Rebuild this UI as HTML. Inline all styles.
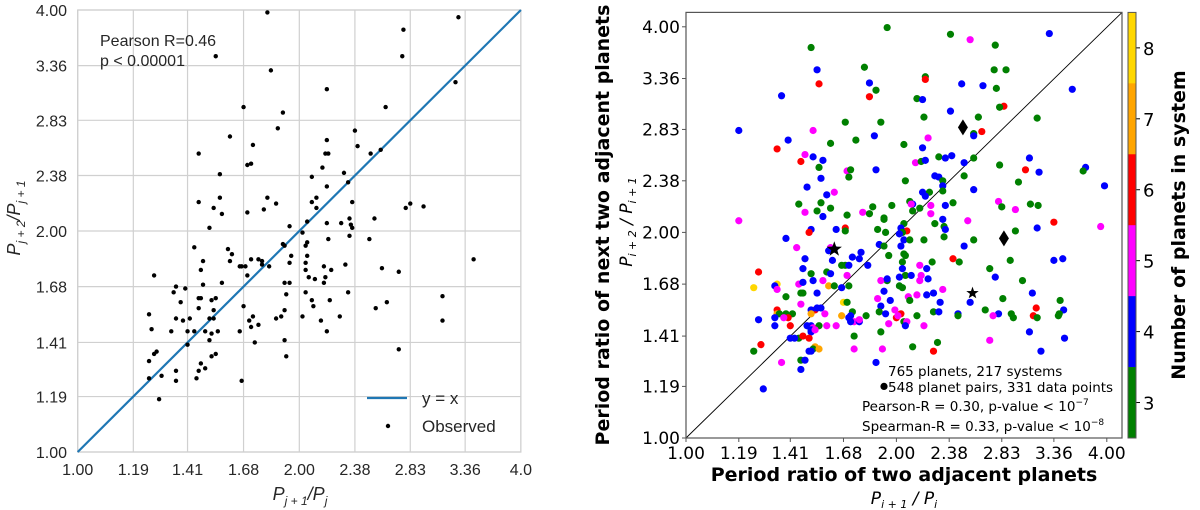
<!DOCTYPE html>
<html><head><meta charset="utf-8"><style>
html,body{margin:0;padding:0;background:#fff;}
svg{display:block;}
</style></head><body>
<svg id="chart" width="1200" height="510" viewBox="0 0 1200 510" xmlns="http://www.w3.org/2000/svg" font-family="Liberation Sans, DejaVu Sans, sans-serif">
<g id="left"></g>
<g id="right"></g>
</svg>
<script>
const ticks = [1.00, 1.19, 1.41, 1.68, 2.00, 2.38, 2.83, 3.36, 4.00];
const tickLabels = ["1.00","1.19","1.41","1.68","2.00","2.38","2.83","3.36","4.00"];
const leftTickLabelsX = ["1.00","1.19","1.41","1.68","2.00","2.38","2.83","3.36","4.0"];
const leftX = [1.81,3.29,2.77,2.76,1.54,1.83,3.26,2.18,1.68,2.62,1.90,1.87,2.38,1.61,2.18,1.73,2.40,2.58,1.46,2.50,2.17,2.19,1.70,1.72,2.15,2.30,1.56,2.08,2.33,2.18,1.56,1.81,2.11,1.46,2.08,2.36,1.86,2.83,2.79,2.95,1.53,1.79,2.11,1.57,1.70,2.53,2.05,2.28,2.34,2.18,2.35,2.36,1.51,1.94,2.02,2.34,2.49,2.19,2.05,1.90,1.91,1.44,1.60,2.04,1.62,1.95,2.05,3.45,1.72,1.76,1.78,1.48,1.61,1.78,1.94,2.04,2.31,1.82,1.66,1.67,1.69,2.16,2.59,1.47,2.21,2.04,2.73,1.70,2.06,2.10,2.17,1.27,1.48,1.57,1.36,1.91,1.94,2.16,1.40,1.35,2.04,2.33,1.92,3.13,1.46,1.47,1.54,1.52,2.08,2.20,1.38,2.63,2.09,1.68,2.54,1.46,1.53,1.91,1.25,1.73,2.02,2.27,1.89,1.51,1.53,1.36,1.86,1.39,1.42,1.71,2.14,3.13,1.76,1.26,1.72,1.34,1.41,1.44,1.49,1.52,1.55,1.66,2.18,1.51,1.41,1.74,1.91,2.73,1.28,1.27,1.25,1.54,1.52,1.92,1.47,1.49,1.46,1.36,1.30,1.25,1.45,1.36,1.67,1.29];
const leftY = [3.97,3.91,3.76,3.46,3.46,3.31,3.19,3.12,2.95,2.95,2.90,2.76,2.74,2.69,2.66,2.62,2.61,2.58,2.55,2.55,2.55,2.55,2.46,2.47,2.44,2.40,2.39,2.37,2.33,2.30,2.22,2.22,2.22,2.19,2.19,2.19,2.18,2.18,2.15,2.16,2.15,2.14,2.15,2.11,2.12,2.08,2.06,2.05,2.08,2.05,2.04,2.02,2.02,2.03,1.99,1.97,1.95,1.95,1.93,1.92,1.91,1.90,1.89,1.91,1.86,1.85,1.85,1.83,1.83,1.83,1.82,1.82,1.82,1.80,1.81,1.81,1.80,1.79,1.79,1.79,1.79,1.79,1.78,1.77,1.77,1.77,1.76,1.74,1.73,1.72,1.73,1.74,1.69,1.70,1.68,1.70,1.70,1.70,1.67,1.65,1.65,1.65,1.64,1.63,1.62,1.62,1.62,1.61,1.61,1.61,1.60,1.60,1.58,1.58,1.57,1.57,1.56,1.56,1.54,1.53,1.53,1.53,1.53,1.52,1.52,1.52,1.52,1.51,1.52,1.51,1.51,1.51,1.49,1.47,1.48,1.46,1.46,1.46,1.46,1.45,1.46,1.46,1.46,1.42,1.40,1.41,1.42,1.38,1.37,1.36,1.33,1.36,1.35,1.35,1.32,1.30,1.29,1.29,1.27,1.26,1.26,1.25,1.25,1.18];
const rightX = [1.94,2.39,3.31,2.55,1.51,2.77,1.80,1.54,2.76,2.87,2.20,2.20,1.83,1.55,2.48,2.66,2.78,3.57,1.87,1.37,1.83,2.14,2.18,2.85,2.81,2.39,2.19,2.62,3.18,1.69,1.90,1.19,1.52,2.65,2.58,2.58,1.86,2.22,1.40,1.75,1.61,2.05,1.35,2.18,1.48,1.52,2.40,2.30,2.35,2.58,3.10,1.46,1.57,2.13,2.17,2.20,2.50,1.55,2.81,3.06,3.20,3.73,3.70,1.87,1.70,1.72,2.50,1.56,1.71,2.27,2.30,2.06,2.33,2.99,3.97,2.33,1.49,2.58,2.18,2.23,2.33,1.63,1.59,2.20,1.56,2.09,2.11,2.10,2.41,2.80,1.45,3.11,3.19,2.35,1.85,1.97,2.24,1.61,2.16,2.83,2.96,1.79,1.48,1.54,2.11,2.24,1.57,1.70,1.83,1.92,1.92,2.33,2.05,2.27,1.19,2.53,3.36,3.92,2.34,3.18,1.69,1.51,1.64,1.88,1.93,2.07,2.03,1.50,1.69,2.04,2.02,2.35,2.96,1.39,2.05,2.09,2.19,2.34,2.58,1.89,1.92,2.03,1.44,2.50,1.61,1.60,1.63,2.05,2.06,1.95,1.78,1.73,1.77,1.48,1.62,3.36,3.46,2.91,2.41,2.46,2.25,2.04,1.82,1.67,1.69,1.71,2.16,2.21,1.47,2.72,2.04,2.06,1.59,1.61,1.51,1.70,2.17,2.10,2.02,2.77,2.16,2.22,3.03,1.94,1.90,1.94,1.52,1.45,1.35,1.34,1.47,1.57,1.25,1.27,1.60,1.63,1.67,1.71,2.02,2.04,2.33,1.35,1.92,2.08,2.14,2.21,2.26,1.54,1.46,1.47,1.39,3.13,2.84,3.43,1.88,1.96,2.09,2.55,2.31,1.68,1.70,1.90,1.46,1.53,1.51,1.54,1.56,3.17,2.68,3.47,1.35,1.35,1.36,1.39,1.42,1.58,1.51,1.73,1.72,1.81,1.89,1.93,1.99,2.03,2.00,2.01,2.14,2.26,2.30,2.45,2.45,2.80,2.75,2.92,2.94,3.14,3.18,3.41,3.42,1.40,1.67,1.34,1.38,1.27,1.49,1.51,1.52,1.55,1.59,1.41,1.64,1.74,1.77,1.72,1.71,1.77,1.95,2.05,2.07,2.06,2.19,1.34,1.51,1.51,1.53,1.45,1.41,1.43,1.47,1.50,1.74,1.90,3.10,3.48,2.72,2.29,1.25,1.28,1.53,1.52,1.55,1.51,1.50,1.74,1.91,2.11,2.26,3.22,1.37,1.46,1.48,1.87,1.46,1.29,1.92];
const rightY = [3.99,3.90,3.91,3.83,3.73,3.76,3.49,3.46,3.46,3.46,3.38,3.35,3.31,3.30,3.30,3.28,3.25,3.24,3.23,3.17,3.16,3.14,3.13,3.06,3.05,3.01,2.95,2.95,2.94,2.90,2.90,2.82,2.82,2.81,2.79,2.77,2.77,2.75,2.73,2.73,2.70,2.69,2.65,2.66,2.60,2.58,2.59,2.58,2.57,2.57,2.57,2.54,2.55,2.53,2.54,2.55,2.53,2.49,2.51,2.47,2.45,2.49,2.46,2.47,2.46,2.47,2.42,2.40,2.41,2.42,2.41,2.38,2.38,2.37,2.34,2.34,2.33,2.31,2.29,2.29,2.30,2.29,2.27,2.26,2.21,2.22,2.20,2.20,2.21,2.22,2.20,2.20,2.19,2.19,2.18,2.19,2.19,2.17,2.17,2.18,2.16,2.14,2.14,2.15,2.15,2.13,2.11,2.12,2.13,2.10,2.09,2.09,2.06,2.06,2.08,2.08,2.07,2.04,2.04,2.03,2.03,2.02,2.02,2.02,2.00,2.01,2.03,2.00,2.01,2.00,1.99,2.02,2.01,1.96,1.95,1.95,1.95,1.97,1.95,1.92,1.91,1.91,1.90,1.91,1.90,1.88,1.89,1.86,1.85,1.85,1.87,1.84,1.83,1.83,1.82,1.82,1.83,1.82,1.83,1.81,1.81,1.81,1.79,1.79,1.79,1.79,1.79,1.77,1.77,1.77,1.77,1.73,1.75,1.74,1.74,1.73,1.73,1.73,1.72,1.72,1.70,1.71,1.70,1.70,1.70,1.71,1.70,1.68,1.68,1.67,1.69,1.70,1.66,1.75,1.67,1.67,1.66,1.67,1.67,1.66,1.65,1.65,1.64,1.61,1.62,1.62,1.63,1.63,1.63,1.63,1.61,1.63,1.60,1.59,1.60,1.59,1.59,1.58,1.58,1.58,1.58,1.56,1.57,1.54,1.54,1.55,1.55,1.55,1.54,1.54,1.54,1.52,1.52,1.52,1.52,1.52,1.52,1.53,1.51,1.51,1.53,1.52,1.54,1.52,1.50,1.51,1.51,1.53,1.53,1.52,1.51,1.52,1.51,1.52,1.50,1.51,1.50,1.51,1.52,1.50,1.51,1.50,1.50,1.49,1.46,1.46,1.45,1.46,1.46,1.46,1.46,1.48,1.48,1.48,1.50,1.49,1.47,1.48,1.48,1.46,1.46,1.46,1.44,1.43,1.44,1.40,1.40,1.40,1.41,1.40,1.41,1.43,1.43,1.40,1.39,1.38,1.34,1.37,1.36,1.35,1.35,1.34,1.34,1.35,1.35,1.36,1.34,1.34,1.29,1.30,1.30,1.29,1.26,1.18,1.19];
const rightN = [3,3,4,5,3,3,3,4,3,3,3,6,4,6,4,4,3,4,3,4,6,3,4,6,3,4,3,3,3,3,3,4,5,6,3,4,4,5,4,3,3,3,6,4,5,4,4,3,4,3,4,6,4,5,3,4,4,3,3,6,4,4,3,4,5,3,3,4,3,4,4,3,3,3,4,4,4,4,4,3,3,5,4,4,3,3,4,5,3,5,3,3,3,4,3,3,5,3,3,3,5,5,5,3,3,5,4,3,3,3,3,4,3,3,5,5,6,5,3,4,6,4,4,3,3,6,4,6,3,3,4,4,3,4,4,3,3,3,3,4,3,4,5,4,5,4,4,3,3,3,4,4,4,4,4,4,4,3,6,3,3,3,4,3,3,4,5,4,4,3,4,3,3,4,3,5,5,4,4,4,5,4,3,3,5,4,4,5,8,4,4,5,8,6,7,3,4,3,3,3,5,5,4,5,5,4,4,4,3,3,3,4,3,3,5,4,3,4,4,8,3,4,5,6,4,4,4,6,3,4,6,7,3,3,3,5,7,3,4,3,3,4,5,6,6,5,3,3,4,4,3,4,5,3,3,6,3,3,3,6,7,4,5,4,4,4,5,3,5,6,5,5,4,4,4,5,5,3,5,4,5,4,4,4,5,3,4,4,6,6,3,3,4,4,5,3,3,6,7,3,7,4,4,5,5,3,6,4,5,3,4,4,4,4];
const starX = [1.63, 2.57];
const starY = [1.89, 1.63];
const diamondX = [2.49, 2.85];
const diamondY = [2.85, 1.96];
const nColors = {3:"#008000",4:"#0000ff",5:"#ff00ff",6:"#ff0000",7:"#ffa500",8:"#ffd700"};

const NS="http://www.w3.org/2000/svg";
function mk(parent,tag,attrs,text){const e=document.createElementNS(NS,tag);for(const k in attrs)e.setAttribute(k,attrs[k]);if(text!==undefined)e.textContent=text;parent.appendChild(e);return e;}
const L=Math.log2;
const lx=v=>77.7+L(v)*4*55.4, ly=v=>452-L(v)*4*55.25;
const rx=v=>686+L(v)*4*52.6, ry=v=>438-L(v)*4*51.4;

const gl=document.getElementById('left');
mk(gl,'rect',{x:77.7,y:10,width:443.2,height:442,fill:'#fff',stroke:'#ccc','stroke-width':1.2});
ticks.forEach((t,i)=>{
  const gx=mk(gl,'line',{x1:lx(t),x2:lx(t),y1:10,y2:452,stroke:'#d0d0d0','stroke-width':1.2});
  
  
  const gy=mk(gl,'line',{x1:77.7,x2:521,y1:ly(t),y2:ly(t),stroke:'#d0d0d0','stroke-width':1.2});
  
  
  const tx=mk(gl,'text',{x:lx(t),y:475,'font-size':16,'text-anchor':'middle',fill:'#262626'},leftTickLabelsX[i]);
  
  
  const ty=mk(gl,'text',{x:67,y:ly(t)+6,'font-size':16,'text-anchor':'end',fill:'#262626'},tickLabels[i]);
  
  
});
const diag=mk(gl,'line',{x1:lx(1),y1:ly(1),x2:lx(4),y2:ly(4),stroke:'#1f77b4','stroke-width':2.2});


leftX.forEach((v,i)=>{
  const c=mk(gl,'circle',{cx:lx(v),cy:ly(leftY[i]),r:2.2,fill:'#000'});
  
  
});
const ann=mk(gl,'text',{x:100,y:46,'font-size':16,fill:'#262626'},'Pearson R=0.46');


const ann2=mk(gl,'text',{x:100,y:66,'font-size':16,fill:'#262626'},'p < 0.00001');


const lg=mk(gl,'g',{});


mk(lg,'line',{x1:367,x2:407,y1:398,y2:398,stroke:'#1f77b4','stroke-width':2.2});
mk(lg,'text',{x:422,y:404,'font-size':17,fill:'#262626'},'y = x');
mk(lg,'circle',{cx:388,cy:426,r:2.2,fill:'#000'});
mk(lg,'text',{x:422,y:432,'font-size':17,fill:'#262626'},'Observed');
const xt=mk(gl,'text',{x:300,y:500,'font-size':18,'text-anchor':'middle',fill:'#262626','font-style':'italic'});


xt.innerHTML='P<tspan font-size="12" dy="5">j + 1</tspan><tspan dy="-5">/P</tspan><tspan font-size="12" dy="5">j</tspan>';
const yt=mk(gl,'text',{x:0,y:0,'font-size':18,'text-anchor':'middle',fill:'#262626','font-style':'italic',transform:'translate(20,218) rotate(-90)'});


yt.innerHTML='P<tspan font-size="12" dy="5">j + 2</tspan><tspan dy="-5">/P</tspan><tspan font-size="12" dy="5">j + 1</tspan>';

const gr=document.getElementById('right');
const rl=mk(gr,'line',{x1:686,y1:438,x2:1122,y2:12.4,stroke:'#000','stroke-width':0.9});


rightX.forEach((v,i)=>{
  const c=mk(gr,'circle',{cx:rx(v),cy:ry(rightY[i]),r:3.6,fill:nColors[rightN[i]]});
  
  
});
function starPath(cx,cy,R){let d='';for(let k=0;k<10;k++){const a=-Math.PI/2+k*Math.PI/5;const rr=k%2?R*0.4:R;d+=(k?'L':'M')+(cx+rr*Math.cos(a)).toFixed(1)+','+(cy+rr*Math.sin(a)).toFixed(1);}return d+'Z';}
starX.forEach((v,i)=>{
  const s=mk(gr,'path',{d:starPath(rx(v),ry(starY[i]),i===0?8:6.5),fill:'#000'});
  
  
});
diamondX.forEach((v,i)=>{
  const cx=rx(v),cy=ry(diamondY[i]);
  const d=mk(gr,'path',{d:`M${cx},${cy-8}L${cx+5},${cy}L${cx},${cy+8}L${cx-5},${cy}Z`,fill:'#000'});
  
  
});
const fr=mk(gr,'rect',{x:686,y:12.4,width:436,height:425.6,fill:'none',stroke:'#555','stroke-width':1.2});


ticks.forEach((t,i)=>{
  mk(gr,'line',{x1:rx(t),x2:rx(t),y1:438,y2:442,stroke:'#555','stroke-width':1});
  mk(gr,'line',{x1:682,x2:686,y1:ry(t),y2:ry(t),stroke:'#555','stroke-width':1});
  const tx=mk(gr,'text',{x:rx(t),y:459,'font-size':17,'text-anchor':'middle',fill:'#000','font-family':'DejaVu Sans, sans-serif'},tickLabels[i]);
  
  
  const ty=mk(gr,'text',{x:680,y:ry(t)+6,'font-size':17,'text-anchor':'end',fill:'#000','font-family':'DejaVu Sans, sans-serif'},tickLabels[i]);
  
  
});
const notes=[[888,376,'765 planets, 217 systems'],[888,392,'548 planet pairs, 331 data points']];
notes.forEach(n=>{const t=mk(gr,'text',{x:n[0],y:n[1],'font-size':13.5,fill:'#000','font-family':'DejaVu Sans, sans-serif'},n[2]);
  
  });
const pr=mk(gr,'text',{x:862,y:411,'font-size':13.5,fill:'#000','font-family':'DejaVu Sans, sans-serif'});


pr.innerHTML='Pearson-R = 0.30, p-value &lt; 10<tspan font-size="9" dy="-6">−7</tspan>';
const sp=mk(gr,'text',{x:862,y:431,'font-size':13.5,fill:'#000','font-family':'DejaVu Sans, sans-serif'});


sp.innerHTML='Spearman-R = 0.33, p-value &lt; 10<tspan font-size="9" dy="-6">−8</tspan>';
const rxt=mk(gr,'text',{x:904,y:481,'font-size':19,'font-weight':'bold','text-anchor':'middle',fill:'#000','font-family':'DejaVu Sans, sans-serif'},'Period ratio of two adjacent planets');


const rxs=mk(gr,'text',{x:904,y:504,'font-size':17,'text-anchor':'middle',fill:'#000','font-style':'italic','font-family':'DejaVu Sans, sans-serif'});


rxs.innerHTML='P<tspan font-size="11" dy="4">i + 1</tspan><tspan dy="-4"> / P</tspan><tspan font-size="11" dy="4">i</tspan>';
const ryt=mk(gr,'text',{x:0,y:0,'font-size':19,'font-weight':'bold','text-anchor':'middle',fill:'#000','font-family':'DejaVu Sans, sans-serif',transform:'translate(609,225) rotate(-90)'},'Period ratio of next two adjacent planets');


const rys=mk(gr,'text',{x:0,y:0,'font-size':17,'text-anchor':'middle',fill:'#000','font-style':'italic','font-family':'DejaVu Sans, sans-serif',transform:'translate(632,222) rotate(-90)'});


rys.innerHTML='P<tspan font-size="11" dy="4">i + 2</tspan><tspan dy="-4"> / P</tspan><tspan font-size="11" dy="4">i + 1</tspan>';
const cb=mk(gr,'g',{});


const cbTop=12.4,cbH=425.6,bandH=cbH/6;
[8,7,6,5,4,3].forEach((n,k)=>{
  const r=mk(cb,'rect',{x:1128,y:cbTop+k*bandH,width:8,height:bandH+0.3,fill:nColors[n]});
  
  
  mk(cb,'line',{x1:1136,x2:1140,y1:cbTop+k*bandH+bandH/2,y2:cbTop+k*bandH+bandH/2,stroke:'#000','stroke-width':1});
  const t=mk(cb,'text',{x:1143,y:cbTop+k*bandH+bandH/2+7,'font-size':18,fill:'#000','font-family':'DejaVu Sans, sans-serif'},String(n));
  
  
});
mk(cb,'rect',{x:1128,y:cbTop,width:8,height:cbH,fill:'none',stroke:'#555','stroke-width':1});
const cbl=mk(cb,'text',{x:0,y:0,'font-size':19,'font-weight':'bold','text-anchor':'middle',fill:'#000','font-family':'DejaVu Sans, sans-serif',transform:'translate(1185,225) rotate(-90)'},'Number of planets in system');


</script>
</body></html>
